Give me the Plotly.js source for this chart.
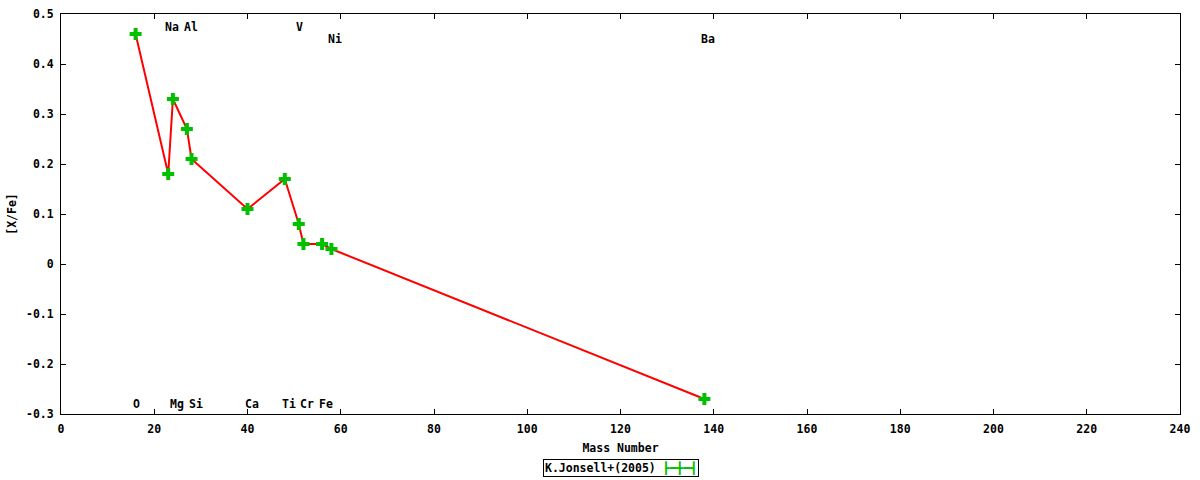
<!DOCTYPE html>
<html>
<head>
<meta charset="utf-8">
<script src="https://cdn.plot.ly/plotly-3.0.1.min.js"></script>
<style>
html,body{margin:0;padding:0;background:#fff;}
#chart{width:1200px;height:480px;}
</style>
</head>
<body>
<div id="chart"></div>
<script>
// Data: mass number vs [X/Fe] (K.Jonsell+ 2005)
var massNumber = [16, 23, 24, 27, 28, 40, 48, 51, 52, 56, 58, 138];
var xFe = [0.46, 0.18, 0.33, 0.27, 0.21, 0.11, 0.17, 0.08, 0.04, 0.04, 0.03, -0.27];

// Element labels
var elemNames = ['O', 'Na', 'Mg', 'Al', 'Si', 'Ca', 'Ti', 'V', 'Cr', 'Fe', 'Ni', 'Ba'];
var elemLabelX = [16, 23, 24, 27, 28, 40, 48, 51, 52, 56, 58, 138];
var elemLabelY = [-0.28, 0.475, -0.28, 0.475, -0.28, -0.28, -0.28, 0.475, -0.28, -0.28, 0.45, 0.45];

// Tick labels
var xTickVals = [0, 20, 40, 60, 80, 100, 120, 140, 160, 180, 200, 220, 240];
var xTickText = ['0', '20', '40', '60', '80', '100', '120', '140', '160', '180', '200', '220', '240'];
var yTickVals = [-0.3, -0.2, -0.1, 0, 0.1, 0.2, 0.3, 0.4, 0.5];
var yTickText = ['-0.3', '-0.2', '-0.1', '0', '0.1', '0.2', '0.3', '0.4', '0.5'];

var seriesName = 'K.Jonsell+(2005)';

var FONT = {family: 'DejaVu Sans Mono, monospace', size: 11.5, color: '#000', weight: 'bold'};
var GREEN = '#00c000';
var RED = '#ff0000';

var traces = [
  {
    x: massNumber, y: xFe,
    type: 'scatter', mode: 'lines+markers',
    name: seriesName,
    line: {color: RED, width: 2},
    marker: {symbol: 'cross', size: 10, color: GREEN, line: {width: 0}},
    showlegend: false,
    hoverinfo: 'x+y'
  }
];

var annotations = elemNames.map(function (n, i) {
  return {
    x: elemLabelX[i], y: elemLabelY[i], xref: 'x', yref: 'y',
    text: n, showarrow: false, xanchor: 'left', yanchor: 'middle',
    xshift: -5, font: FONT
  };
});

// Legend box (gnuplot style: title then error-bar symbol)
annotations.push({
  xref: 'paper', yref: 'paper', x: 0.5, y: -0.135,
  xanchor: 'center', yanchor: 'middle', showarrow: false,
  text: seriesName + ' <span style="color:' + GREEN + '">\u2523\u2501\u254B\u2501\u252B</span>',
  font: FONT, bordercolor: '#000', borderwidth: 1, borderpad: 1, bgcolor: '#fff'
});

var layout = {
  width: 1200, height: 480,
  paper_bgcolor: '#fff', plot_bgcolor: '#fff',
  margin: {l: 61, r: 20, t: 14, b: 66},
  font: FONT,
  showlegend: false,
  xaxis: {
    range: [0, 240], tickvals: xTickVals, ticktext: xTickText,
    ticks: 'inside', ticklen: 5, tickwidth: 1, tickcolor: '#000',
    showline: true, linecolor: '#000', linewidth: 1, mirror: 'ticks',
    showgrid: false, zeroline: false,
    tickfont: FONT, ticklabelstandoff: 4,
    title: {text: 'Mass Number', font: FONT, standoff: 9}
  },
  yaxis: {
    range: [-0.3, 0.5], tickvals: yTickVals, ticktext: yTickText,
    ticks: 'inside', ticklen: 5, tickwidth: 1, tickcolor: '#000',
    showline: true, linecolor: '#000', linewidth: 1, mirror: 'ticks',
    showgrid: false, zeroline: false,
    tickfont: FONT, ticklabelstandoff: 4,
    title: {text: '[X/Fe]', font: FONT, standoff: 6}
  },
  annotations: annotations
};

Plotly.newPlot('chart', traces, layout, {displayModeBar: false, staticPlot: true});
</script>
</body>
</html>
